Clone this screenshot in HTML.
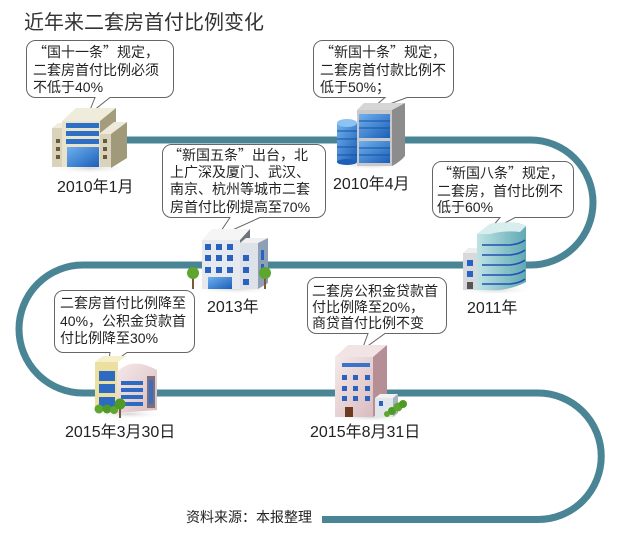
<!DOCTYPE html>
<html><head><meta charset="utf-8">
<style>
html,body{margin:0;padding:0;background:#fff;}
#c{position:relative;width:619px;height:535px;overflow:hidden;background:#fff;font-family:"Liberation Sans","Noto Sans CJK SC",sans-serif;color:#222;}
svg{position:absolute;left:0;top:0;}
.t{position:absolute;white-space:nowrap;font-size:14px;line-height:16px;color:#222;}
.q{font-family:"Noto Sans CJK SC",sans-serif;}
.lb{position:absolute;white-space:nowrap;font-size:16px;line-height:18px;color:#222;}
</style></head><body><div id="c">
<svg width="619" height="535" viewBox="0 0 619 535">
<defs>
<linearGradient id="blue" x1="0" y1="0" x2="1" y2="1"><stop offset="0" stop-color="#6fb0ee"/><stop offset="1" stop-color="#1b5fb8"/></linearGradient>
<linearGradient id="teal" x1="0" y1="0" x2="1" y2="0"><stop offset="0" stop-color="#bfe3e4"/><stop offset="1" stop-color="#5fa9b4"/></linearGradient>
<linearGradient id="pink" x1="0" y1="0" x2="1" y2="1"><stop offset="0" stop-color="#f5e9e9"/><stop offset="1" stop-color="#d9bcbf"/></linearGradient>
<radialGradient id="sh"><stop offset="0" stop-color="#bbb" stop-opacity=".6"/><stop offset="1" stop-color="#fff" stop-opacity="0"/></radialGradient>
</defs>
<!-- road -->
<path d="M 100 140 H 530.5 A 62.5 62.5 0 0 1 530.5 265 H 83 A 64 64 0 0 0 83 393 H 538 A 63 63 0 0 1 538 519.5 H 322" fill="none" stroke="#4a8596" stroke-width="7"/>

<!-- callouts -->
<g fill="#fff" stroke="#666" stroke-width="1">
<path d="M35.5 40.5 H164.5 A9 9 0 0 1 173.5 49.5 V88.5 A9 9 0 0 1 164.5 97.5 H110 L88 115 L95 97.5 H35.5 A9 9 0 0 1 26.5 88.5 V49.5 A9 9 0 0 1 35.5 40.5 Z"/>
<path d="M322.5 40.5 H444.5 A9 9 0 0 1 453.5 49.5 V88.5 A9 9 0 0 1 444.5 97.5 H407 L368 112 L385 97.5 H322.5 A9 9 0 0 1 313.5 88.5 V49.5 A9 9 0 0 1 322.5 40.5 Z"/>
<path d="M171.5 144.5 H316.5 A9 9 0 0 1 325.5 153.5 V208.5 A9 9 0 0 1 316.5 217.5 H260 L217 237 L230 217.5 H171.5 A9 9 0 0 1 162.5 208.5 V153.5 A9 9 0 0 1 171.5 144.5 Z"/>
<path d="M441.5 161.5 H564.5 A9 9 0 0 1 573.5 170.5 V208.5 A9 9 0 0 1 564.5 217.5 H515 L488 232 L500 217.5 H441.5 A9 9 0 0 1 432.5 208.5 V170.5 A9 9 0 0 1 441.5 161.5 Z"/>
<path d="M63.5 290.5 H185.5 A9 9 0 0 1 194.5 299.5 V343.5 A9 9 0 0 1 185.5 352.5 H127 L108 366 L110 352.5 H63.5 A9 9 0 0 1 54.5 343.5 V299.5 A9 9 0 0 1 63.5 290.5 Z"/>
<path d="M316.5 277.5 H437.5 A9 9 0 0 1 446.5 286.5 V324.5 A9 9 0 0 1 437.5 333.5 H385 L362 350 L368 333.5 H316.5 A9 9 0 0 1 307.5 324.5 V286.5 A9 9 0 0 1 316.5 277.5 Z"/>
</g>

<!-- Building 1 : 2010年1月 -->
<g>
<ellipse cx="90" cy="168" rx="42" ry="6" fill="url(#sh)"/>
<polygon points="52,128 58,123 64,123 64,128" fill="#efecdc"/>
<rect x="52" y="128" width="12" height="39" fill="#d8d3ba"/>
<polygon points="62,121 76,108 116,108 100,121" fill="#efecdc"/>
<polygon points="100,121 116,108 116,128 100,140" fill="#a39d7e"/>
<polygon points="99,134 114,122 127,122 111,134" fill="#eeeadb"/>
<polygon points="111,134 127,122 127,158 111,168" fill="#a09a7a"/>
<rect x="99" y="134" width="12" height="33" fill="#d8d3ba"/>
<rect x="62" y="121" width="38" height="46" fill="#e7e3cd"/>
<rect x="66" y="123" width="33" height="5" fill="#2c6fc4"/>
<rect x="66" y="131" width="33" height="5" fill="#2c6fc4"/>
<rect x="66" y="139" width="33" height="5" fill="#2c6fc4"/>
<rect x="67" y="147" width="32" height="20" fill="url(#blue)"/>
<g fill="#6b5a3a"><rect x="56" y="139" width="4" height="4"/><rect x="56" y="147" width="4" height="4"/><rect x="56" y="155" width="4" height="4"/><rect x="103" y="139" width="4" height="4"/><rect x="103" y="147" width="4" height="4"/><rect x="103" y="155" width="4" height="4"/></g>
</g>

<!-- Building 2 : 2010年4月 -->
<g>
<ellipse cx="370" cy="165" rx="38" ry="5" fill="url(#sh)"/>
<rect x="337" y="123" width="20" height="39" fill="url(#blue)"/>
<ellipse cx="347" cy="162" rx="10" ry="3" fill="#1b5fb8"/>
<ellipse cx="347" cy="123" rx="10" ry="4" fill="#8cc3f2"/>
<g stroke="#1a4f9a" stroke-width="1"><line x1="337" y1="131" x2="357" y2="131"/><line x1="337" y1="139" x2="357" y2="139"/><line x1="337" y1="147" x2="357" y2="147"/><line x1="337" y1="155" x2="357" y2="155"/></g>
<polygon points="357,110 364,103 405,103 392,110" fill="#d6d6d6"/>
<path d="M392 110 L405 103 L405 156 Q400 162 392 166 Z" fill="#8c8c8c"/>
<rect x="357" y="110" width="35" height="56" fill="#c9c9c9"/>
<rect x="359" y="114" width="31" height="24" fill="url(#blue)"/>
<rect x="359" y="141" width="31" height="22" fill="url(#blue)"/>
<g stroke="#1a4f9a" stroke-width="1"><line x1="359" y1="121" x2="390" y2="121"/><line x1="359" y1="128" x2="390" y2="128"/><line x1="359" y1="148" x2="390" y2="148"/><line x1="359" y1="155" x2="390" y2="155"/></g>
</g>

<!-- Building 3 : 2013年 -->
<g>
<ellipse cx="235" cy="289" rx="45" ry="5" fill="url(#sh)"/>
<polygon points="202,240 212,229 250,229 240,240" fill="#f5f5f5"/>
<polygon points="240,240 250,229 250,244 240,244" fill="#6d737a"/>
<rect x="202" y="240" width="38" height="49" fill="#e6eaee"/>
<polygon points="240,243 246,238 268,238 258,243" fill="#f0f0f0"/>
<polygon points="258,243 268,238 268,283 258,289" fill="#8f9fb5"/>
<rect x="240" y="243" width="18" height="46" fill="#dde2e8"/>
<g fill="#2a63bf">
<rect x="205" y="244" width="6" height="6"/><rect x="216" y="244" width="6" height="6"/><rect x="227" y="244" width="6" height="6"/>
<rect x="205" y="255" width="6" height="6"/><rect x="216" y="255" width="6" height="6"/><rect x="227" y="255" width="6" height="6"/>
<rect x="205" y="267" width="6" height="6"/><rect x="216" y="267" width="6" height="6"/><rect x="227" y="267" width="6" height="6"/>
<rect x="243" y="255" width="6" height="6"/><rect x="243" y="267" width="6" height="6"/><rect x="243" y="279" width="6" height="6"/>
<rect x="261" y="250" width="3" height="10"/><rect x="261" y="264" width="3" height="10"/>
</g>
<rect x="208" y="277" width="24" height="12" fill="url(#blue)"/>
<rect x="192" y="276" width="2" height="13" fill="#7a5a3a"/>
<circle cx="193" cy="273" r="6" fill="#5ea62e"/>
<rect x="264" y="276" width="2" height="13" fill="#7a5a3a"/>
<circle cx="265" cy="273" r="6" fill="#5ea62e"/>
</g>

<!-- Building 4 : 2011年 -->
<g>
<ellipse cx="495" cy="290" rx="38" ry="5" fill="url(#sh)"/>
<polygon points="463,253 468,248 480,248 477,253" fill="#eee"/>
<rect x="463" y="253" width="15" height="37" fill="#d7d9dc"/>
<rect x="467" y="260" width="6" height="6" fill="#2a63bf"/>
<rect x="467" y="271" width="6" height="6" fill="#2a63bf"/>
<rect x="467" y="282" width="6" height="7" fill="#555"/>
<path d="M477 234 L490 224 Q515 220 526 226 L526 282 Q515 288 500 290 L477 290 Z" fill="url(#teal)"/>
<path d="M477 234 L490 224 Q515 220 526 226 L520 232 Q505 230 490 234 Z" fill="#d8eeee"/>
<g stroke="#2450b0" stroke-width="1.6" fill="none">
<path d="M482 245 H510 Q520 244 525 240"/><path d="M482 255 H510 Q520 254 525 250"/><path d="M482 265 H510 Q520 264 525 260"/><path d="M482 275 H510 Q520 274 525 270"/><path d="M482 284 H510 Q520 283 525 279"/>
</g>
</g>

<!-- Building 5 : 2015年3月30日 -->
<g>
<ellipse cx="128" cy="414" rx="38" ry="5" fill="url(#sh)"/>
<polygon points="95,362 103,356 126,356 118,362" fill="#f6efc8"/>
<rect x="95" y="362" width="23" height="48" fill="#ece0a0"/>
<rect x="99" y="371" width="16" height="10" fill="#2d6ac2"/>
<rect x="99" y="384" width="16" height="9" fill="#2d6ac2"/>
<rect x="99" y="397" width="16" height="10" fill="#2d6ac2"/>
<path d="M117 372 Q132 356 157 370 L157 410 L117 413 Z" fill="url(#pink)"/>
<rect x="147" y="376" width="8" height="32" fill="#7a6f7a"/>
<rect x="149" y="380" width="4" height="24" fill="#3a6cc0"/>
<g fill="#2d6ac2"><rect x="121" y="381" width="22" height="4"/><rect x="121" y="388" width="22" height="4"/><rect x="121" y="395" width="22" height="4"/><rect x="121" y="402" width="22" height="4"/></g>
<circle cx="99" cy="409" r="4.5" fill="#5ea62e"/><circle cx="107" cy="409" r="4.5" fill="#4f9a26"/><circle cx="114" cy="410" r="4" fill="#5ea62e"/>
<rect x="119" y="407" width="2" height="11" fill="#7a5a3a"/>
<circle cx="120" cy="404" r="5.5" fill="#4f9a26"/>
</g>

<!-- Building 6 : 2015年8月31日 -->
<g>
<ellipse cx="370" cy="417" rx="40" ry="5" fill="url(#sh)"/>
<polygon points="335,357 348,345 387,345 373,357" fill="#f2e4e4"/>
<polygon points="373,357 387,345 387,408 373,417" fill="#b58e96"/>
<rect x="335" y="357" width="38" height="60" fill="url(#pink)"/>
<rect x="342" y="363" width="28" height="4" fill="#3b74c8"/>
<g fill="#2a63bf">
<rect x="342" y="375" width="5" height="5"/><rect x="353" y="375" width="5" height="5"/><rect x="365" y="375" width="5" height="5"/>
<rect x="342" y="386" width="5" height="5"/><rect x="353" y="386" width="5" height="5"/><rect x="365" y="386" width="5" height="5"/>
<rect x="342" y="396" width="5" height="5"/><rect x="353" y="396" width="5" height="5"/><rect x="365" y="396" width="5" height="5"/>
</g>
<rect x="345" y="407" width="8" height="10" fill="#6b3a20"/>
<polygon points="375,398 380,394 398,394 393,398" fill="#f2f2f2"/>
<rect x="375" y="398" width="18" height="19" fill="#e2e6ea"/>
<polygon points="393,398 398,394 398,413 393,417" fill="#a7b4c4"/>
<rect x="379" y="401" width="4" height="5" fill="#2a63bf"/>
<circle cx="392" cy="411" r="4" fill="#4f9a26"/><circle cx="398" cy="407" r="4.5" fill="#5ea62e"/><circle cx="403" cy="404" r="4" fill="#4f9a26"/><circle cx="387" cy="414" r="3" fill="#5ea62e"/>
</g>
</svg>

<!-- title -->
<div class="t" style="left:24px;top:11px;font-size:20px;line-height:24px;color:#333;">近年来二套房首付比例变化</div>

<!-- callout texts -->
<div class="t" style="left:33px;top:44px;"><span class="q">“</span>国十一条<span class="q">”</span>规定，</div>
<div class="t" style="left:33px;top:62px;">二套房首付比例必须</div>
<div class="t" style="left:33px;top:79px;">不低于40%</div>

<div class="t" style="left:320px;top:44px;"><span class="q">“</span>新国十条<span class="q">”</span>规定，</div>
<div class="t" style="left:320px;top:62px;">二套房首付款比例不</div>
<div class="t" style="left:320px;top:79px;">低于50%；</div>

<div class="t" style="left:168px;top:147px;"><span class="q">“</span>新国五条<span class="q">”</span>出台，北</div>
<div class="t" style="left:170px;top:164px;">上广深及厦门、武汉、</div>
<div class="t" style="left:170px;top:181px;">南京、杭州等城市二套</div>
<div class="t" style="left:170px;top:199px;">房首付比例提高至70%</div>

<div class="t" style="left:438px;top:165px;"><span class="q">“</span>新国八条<span class="q">”</span>规定，</div>
<div class="t" style="left:437px;top:183px;">二套房，首付比例不</div>
<div class="t" style="left:437px;top:199px;">低于60%</div>

<div class="t" style="left:60px;top:295px;">二套房首付比例降至</div>
<div class="t" style="left:60px;top:313px;">40%，公积金贷款首</div>
<div class="t" style="left:60px;top:330px;">付比例降至30%</div>

<div class="t" style="left:312px;top:283px;">二套房公积金贷款首</div>
<div class="t" style="left:312px;top:299px;">付比例降至20%，</div>
<div class="t" style="left:312px;top:315px;">商贷首付比例不变</div>

<!-- labels -->
<div class="lb" style="left:57px;top:179px;">2010年1月</div>
<div class="lb" style="left:333px;top:176px;">2010年4月</div>
<div class="lb" style="left:207px;top:299px;">2013年</div>
<div class="lb" style="left:467px;top:300px;">2011年</div>
<div class="lb" style="left:65px;top:424px;">2015年3月30日</div>
<div class="lb" style="left:310px;top:424px;">2015年8月31日</div>

<div class="t" style="left:186px;top:509px;">资料来源：本报整理</div>
</div></body></html>
